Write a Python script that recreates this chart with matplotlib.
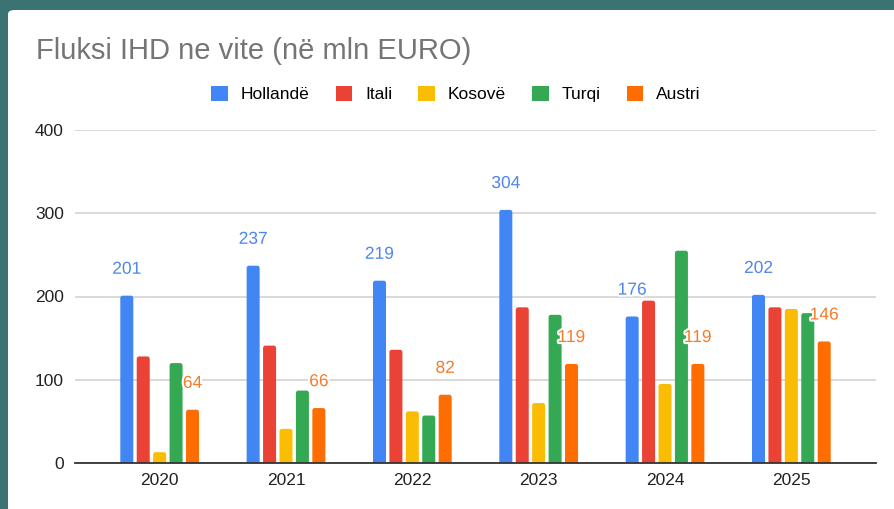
import matplotlib
matplotlib.use("Agg")
import matplotlib.pyplot as plt
import matplotlib.patheffects as pe
from matplotlib.patches import Patch, FancyBboxPatch
import numpy as np

plt.rcParams["font.family"] = ["Liberation Sans", "DejaVu Sans"]

years = ["2020", "2021", "2022", "2023", "2024", "2025"]
series_names = ["Hollandë", "Itali", "Kosovë", "Turqi", "Austri"]
hollande = [201, 237, 219, 304, 176, 202]
itali = [128, 141, 136, 187, 195, 187]
kosove = [13, 41, 62, 72, 95, 185]
turqi = [120, 87, 57, 178, 255, 180]
austri = [64, 66, 82, 119, 119, 146]
colors = ["#4285F4", "#EA4335", "#FBBC04", "#34A853", "#FF6D01"]
labelled = {0: "#4f86ec", 4: "#f57c2a"}
yticks = [0, 100, 200, 300, 400]

values = [hollande, itali, kosove, turqi, austri]

W, H = 894, 509
fig = plt.figure(figsize=(W / 100, H / 100), dpi=100)
fig.patch.set_facecolor("#3b7373")

# white card behind the chart
card = FancyBboxPatch((8 / W, -0.05), 1.1, (H - 10) / H + 0.05,
                      boxstyle="round,pad=0,rounding_size=0.008",
                      transform=fig.transFigure, facecolor="white",
                      edgecolor="none", zorder=-5)
fig.patches.append(card)

ax = fig.add_axes([75 / W, (H - 463) / H, (876 - 75) / W, 333 / H])
ax.set_facecolor("none")
ax.set_zorder(2)
ax.set_xlim(-0.67, 5.67)
ax.set_ylim(0, 400)

x = np.arange(len(years))
pitch = 0.13
width = 0.103
r = 0.018                      # corner radius in x data units
aspect = 3.0 / r               # keeps corners circular in pixels
for i, (name, vals) in enumerate(zip(series_names, values)):
    pos = x + (i - 2) * pitch
    bars = ax.bar(pos, vals, width=width, color=colors[i], label=name, zorder=3)
    # swap each rectangle for a version with rounded top corners
    for rect in bars:
        bx, bw, bh = rect.get_x(), rect.get_width(), rect.get_height()
        rounded = FancyBboxPatch((bx, -6), bw, bh + 6,
                                 boxstyle=f"round,pad=0,rounding_size={r}",
                                 mutation_aspect=aspect,
                                 facecolor=colors[i], edgecolor="none", zorder=3)
        ax.add_patch(rounded)
        rect.set_visible(False)
    if i in labelled:
        for px, v in zip(pos, vals):
            ax.annotate(str(v), (px, v), xytext=(0, 19), textcoords="offset points",
                        ha="center", va="center", fontsize=12.5,
                        color=labelled[i], zorder=5,
                        path_effects=[pe.withStroke(linewidth=3, foreground="white")])

ax.set_yticks(yticks)
ax.set_yticklabels([str(t) for t in yticks])
ax.set_xticks(x)
ax.set_xticklabels(years)
ax.tick_params(axis="both", length=0, labelsize=12.5, labelcolor="#222222")
ax.tick_params(axis="y", pad=8)
ax.tick_params(axis="x", pad=7)
for s in ["top", "right", "left"]:
    ax.spines[s].set_visible(False)
ax.spines["bottom"].set_color("#333333")
ax.spines["bottom"].set_linewidth(1.3)
ax.spines["bottom"].set_zorder(4)
ax.grid(axis="y", color="#d3d3d3", linewidth=1.2, zorder=0)
ax.set_axisbelow(True)

fig.text(36 / W, (H - 51) / H, "Fluksi IHD ne vite (në mln EURO)",
         fontsize=21, color="#757575", ha="left", va="center")

handles = [Patch(facecolor=c, edgecolor="none") for c in colors]
fig.legend(handles, series_names, loc="center", bbox_to_anchor=(456 / W, (H - 94) / H),
           ncol=5, frameon=False, fontsize=12.5, handlelength=0.95, handleheight=0.95,
           handletextpad=0.75, columnspacing=1.5)

fig.savefig("out.png", dpi=100)
